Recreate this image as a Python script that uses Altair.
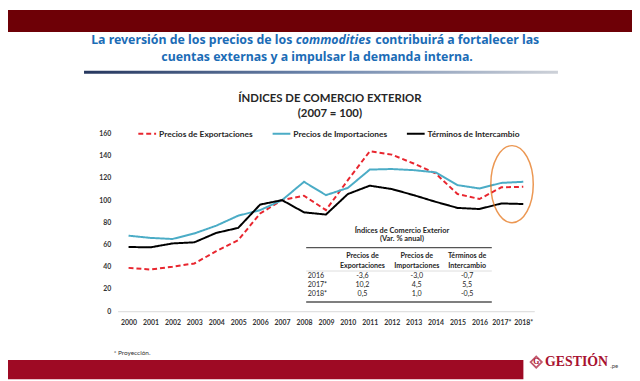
import altair as alt
import pandas as pd

# ---------------- data ----------------
years = ["2000", "2001", "2002", "2003", "2004", "2005", "2006", "2007", "2008", "2009",
         "2010", "2011", "2012", "2013", "2014", "2015", "2016", "2017*", "2018*"]
exportaciones = [39, 37.5, 40, 43, 54, 64, 88, 100, 104, 91, 118, 144, 141, 133, 124, 105.5, 101, 111.5, 112]
importaciones = [68, 66, 65, 70, 77, 86, 91, 100, 116.5, 104.5, 111, 127.5, 128, 127, 125, 113.5, 110.5, 115.5, 116.5]
terminos = [57.8, 57.5, 61, 62, 70.5, 75, 96, 100, 89, 87, 105.5, 113, 110, 104.5, 98.5, 93, 92, 97, 96.5]
series = ["Precios de Exportaciones", "Precios de Importaciones", "Términos de Intercambio"]

tab_rows = ["2016", "2017*", "2018*"]
tab_exp = ["-3,6", "10,2", "0,5"]
tab_imp = ["-3,0", "4,5", "1,0"]
tab_tdi = ["-0,7", "5,5", "-0,5"]

y_ticks = [0, 20, 40, 60, 80, 100, 120, 140, 160]

# ---------------- frames ----------------
rows = []
for name, vals in zip(series, [exportaciones, importaciones, terminos]):
    for yr, v in zip(years, vals):
        rows.append({"year": yr, "value": v, "serie": name})
df = pd.DataFrame(rows)
tab = pd.DataFrame({"row": tab_rows, "exp": tab_exp, "imp": tab_imp, "tdi": tab_tdi})
one = pd.DataFrame({"k": [0]})

FONT = "Lato"
TXT = "#262626"

def deco():
    return alt.Chart(one)

layers = []

# top band
layers.append(deco().mark_rect(color="#6e0006").encode(
    x=alt.value(-111), x2=alt.value(521), y=alt.value(-125), y2=alt.value(-102.7)))
# bottom band
layers.append(deco().mark_rect(color="#9e0a24").encode(
    x=alt.value(-111), x2=alt.value(411), y=alt.value(229.3), y2=alt.value(249)))

# headline
BLUE = "#1b6cb6"
HF = "Noto Sans"
HS = 12.5
layers.append(deco().mark_text(font=HF, fontSize=HS, fontWeight="bold", color=BLUE,
                               align="right", baseline="middle").encode(
    x=alt.value(177), y=alt.value(-94.5), text=alt.value("La reversión de los precios de los")))
layers.append(deco().mark_text(font=HF, fontSize=HS, fontStyle="italic", fontWeight="bold",
                               color=BLUE, align="left", baseline="middle").encode(
    x=alt.value(180.5), y=alt.value(-94.5), text=alt.value("commodities")))
layers.append(deco().mark_text(font=HF, fontSize=HS, fontWeight="bold", color=BLUE,
                               align="left", baseline="middle").encode(
    x=alt.value(261), y=alt.value(-94.5), text=alt.value("contribuirá a fortalecer las")))
layers.append(deco().mark_text(font=HF, fontSize=HS, fontWeight="bold", color=BLUE,
                               align="center", baseline="middle").encode(
    x=alt.value(202), y=alt.value(-77.5),
    text=alt.value("cuentas externas y a impulsar la demanda interna.")))

# gradient rule
grad = alt.LinearGradient(gradient="linear", x1=0, x2=1, y1=0, y2=0,
                          stops=[alt.GradientStop(color="#26375e", offset=0),
                                 alt.GradientStop(color="#6d86ad", offset=0.5),
                                 alt.GradientStop(color="#cdd1d8", offset=1)])
layers.append(deco().mark_rect(color=grad).encode(
    x=alt.value(-34), x2=alt.value(446), y=alt.value(-63.5), y2=alt.value(-60.5)))

# chart title
layers.append(deco().mark_text(font=FONT, fontSize=11.5, fontWeight="bold", color=TXT,
                               align="center", baseline="middle").encode(
    x=alt.value(215), y=alt.value(-35.2), text=alt.value("ÍNDICES DE COMERCIO EXTERIOR")))
layers.append(deco().mark_text(font=FONT, fontSize=11.5, fontWeight="bold", color=TXT,
                               align="center", baseline="middle").encode(
    x=alt.value(215), y=alt.value(-20.2), text=alt.value("(2007 = 100)")))

# main lines
leg = dict(orient="none", legendX=20, legendY=-10, direction="horizontal",
           symbolType="stroke", symbolSize=324, symbolStrokeWidth=2,
           labelFont=FONT, labelFontSize=8.5, labelFontWeight="bold",
           labelColor=TXT, labelOffset=2, columnPadding=15)
lines = alt.Chart(df).mark_line(strokeWidth=2).encode(
    x=alt.X("year:O", sort=years, title=None,
            scale=alt.Scale(type="point", padding=0.5),
            axis=alt.Axis(labelAngle=0, labelFont=FONT, labelFontSize=7, labelFontWeight="bold",
                          labelColor="#333333", labelPadding=7, ticks=False,
                          domainColor="#d9d9d9", domainWidth=1, grid=False, labelOverlap=False)),
    y=alt.Y("value:Q", title=None, scale=alt.Scale(domain=[0, 160], nice=False),
            axis=alt.Axis(values=y_ticks, labelFont=FONT, labelFontSize=7, labelFontWeight="bold",
                          labelColor="#333333", labelPadding=7, ticks=False, domain=False, grid=False)),
    color=alt.Color("serie:N", title=None,
                    scale=alt.Scale(domain=series, range=["#e8262f", "#4bacc6", "#000000"]),
                    legend=alt.Legend(**leg)),
    strokeDash=alt.StrokeDash("serie:N", title=None,
                              scale=alt.Scale(domain=series, range=[[5, 3], [1, 0], [1, 0]]),
                              legend=alt.Legend(**leg)),
)
layers.append(lines)

# orange ellipse
ell = "M -0.551 0 A 0.551 1 0 1 1 0.551 0 A 0.551 1 0 1 1 -0.551 0 Z"
layers.append(deco().mark_point(shape=ell, size=6084, filled=False, stroke="#e46c0a",
                                strokeWidth=1.5).encode(x=alt.value(399.5), y=alt.value(51.3)))

# table
layers.append(deco().mark_text(font=FONT, fontSize=7.5, fontWeight="bold", color=TXT,
                               align="center", baseline="middle").encode(
    x=alt.value(288), y=alt.value(98.3), text=alt.value("Índices de Comercio Exterior")))
layers.append(deco().mark_text(font=FONT, fontSize=7.5, fontWeight="bold", color=TXT,
                               align="center", baseline="middle").encode(
    x=alt.value(288), y=alt.value(107.3), text=alt.value("(Var. % anual)")))
for yv, w in [(115.6, 1.5), (170.6, 1.5)]:
    layers.append(deco().mark_rule(color="#555555", strokeWidth=w).encode(
        x=alt.value(191), x2=alt.value(379), y=alt.value(yv)))
layers.append(deco().mark_rule(color="#bbbbbb", strokeWidth=0.5).encode(
    x=alt.value(191), x2=alt.value(379), y=alt.value(139.3)))

col_x = [248, 303, 354]
head1 = ["Precios de", "Precios de", "Términos de"]
head2 = ["Exportaciones", "Importaciones", "Intercambio"]
for cx, h1, h2 in zip(col_x, head1, head2):
    layers.append(deco().mark_text(font=FONT, fontSize=7.2, fontWeight="bold", color=TXT,
                                   align="center", baseline="middle").encode(
        x=alt.value(cx), y=alt.value(124), text=alt.value(h1)))
    layers.append(deco().mark_text(font=FONT, fontSize=7.2, fontWeight="bold", color=TXT,
                                   align="center", baseline="middle").encode(
        x=alt.value(cx), y=alt.value(134), text=alt.value(h2)))

row_scale = alt.Scale(type="point", domain=tab_rows, range=[144, 162.3], padding=0)
layers.append(alt.Chart(tab).mark_text(font=FONT, fontSize=7.2, color=TXT, align="left",
                                       baseline="middle").encode(
    x=alt.value(192.5), y=alt.Y("row:N", scale=row_scale, axis=None), text="row:N"))
for cx, field in zip(col_x, ["exp", "imp", "tdi"]):
    layers.append(alt.Chart(tab).mark_text(font=FONT, fontSize=7.2, color=TXT, align="center",
                                           baseline="middle").encode(
        x=alt.value(cx), y=alt.Y("row:N", scale=row_scale, axis=None), text=f"{field}:N"))

# footnote
layers.append(deco().mark_text(font=FONT, fontSize=6.5, color="#333333", align="left",
                               baseline="middle").encode(
    x=alt.value(-4), y=alt.value(222.3), text=alt.value("* Proyección.")))

# logo
LOGO = "#a8112f"
layers.append(deco().mark_point(shape="diamond", size=130, filled=False, stroke=LOGO,
                                strokeWidth=1.8).encode(x=alt.value(424), y=alt.value(231.5)))
layers.append(deco().mark_text(font="Liberation Serif", fontSize=8, fontWeight="bold", color=LOGO,
                               align="center", baseline="middle").encode(
    x=alt.value(424), y=alt.value(231.8), text=alt.value("G")))
layers.append(deco().mark_text(font="Liberation Serif", fontSize=14, fontWeight="bold", color=LOGO,
                               align="left", baseline="middle").encode(
    x=alt.value(433), y=alt.value(232), text=alt.value("GESTIÓN")))
layers.append(deco().mark_text(font=FONT, fontSize=6, color="#444444",
                               align="left", baseline="middle").encode(
    x=alt.value(499), y=alt.value(235.5), text=alt.value(".pe")))

chart = alt.layer(*layers).resolve_scale(y="independent").properties(
    width=422, height=180,
    padding={"left": 111, "top": 124.7, "right": 99, "bottom": 68.3},
    autosize=alt.AutoSizeParams(type="none"),
    background="white",
).configure_view(strokeWidth=0)

chart.save("out.html", embed_options={"renderer": "svg", "actions": False})
